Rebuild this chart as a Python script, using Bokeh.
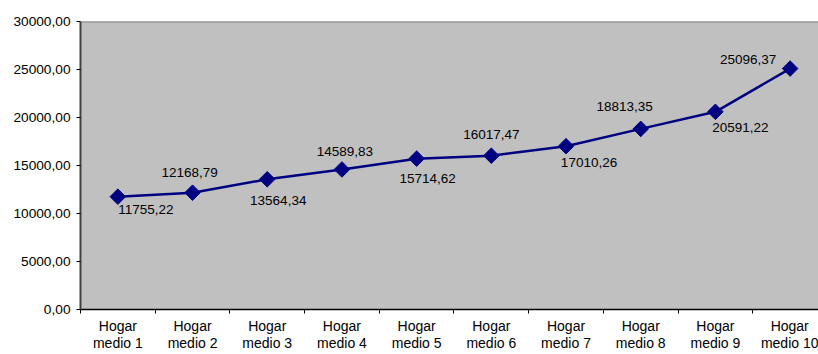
import numpy as np
from bokeh.plotting import figure
from bokeh.models import Range1d, FixedTicker, ColumnDataSource, Span
from bokeh.core.properties import value
from bokeh.embed import file_html
from bokeh.resources import INLINE

# Household categories and their average income
hogares = ["Hogar\nmedio 1", "Hogar\nmedio 2", "Hogar\nmedio 3", "Hogar\nmedio 4",
           "Hogar\nmedio 5", "Hogar\nmedio 6", "Hogar\nmedio 7", "Hogar\nmedio 8",
           "Hogar\nmedio 9", "Hogar\nmedio 10"]
ingresos = [11755.22, 12168.79, 13564.34, 14589.83, 15714.62,
            16017.47, 17010.26, 18813.35, 20591.22, 25096.37]
y_ticks = [0, 5000, 10000, 15000, 20000, 25000, 30000]
y_tick_labels = ["0,00", "5000,00", "10000,00", "15000,00", "20000,00", "25000,00", "30000,00"]

FONT = "Liberation Sans"
NAVY = "#000080"


def fmt(v):
    return f"{v:.2f}".replace(".", ",")


n = len(hogares)
centers = [i + 0.5 for i in range(n)]

# per-label placement (screen pixels, +y is downwards)
label_dx = [28, -3, 11, 3, 11, 0, 23, -16, 25, -42]
label_dy = [13, -20, 21, -18, 20, -21, 16, -22, 16, -9]

src = ColumnDataSource(dict(
    x=centers,
    y=ingresos,
    txt=[fmt(v) for v in ingresos],
    dx=label_dx,
    dy=label_dy,
))

p = figure(width=818, height=354,
           x_range=Range1d(0, 9.88), y_range=Range1d(0, 30000),
           output_backend="svg", toolbar_location=None,
           min_border_left=80, min_border_right=0,
           min_border_top=21, min_border_bottom=44)

p.background_fill_color = "#C0C0C0"
p.border_fill_color = "white"
p.outline_line_color = None
p.xgrid.visible = False
p.ygrid.visible = False

# top border of the plot area
p.add_layout(Span(location=30000, dimension="width", line_color="#808080", line_width=2))

# y axis
yax = p.yaxis[0]
yax.ticker = FixedTicker(ticks=y_ticks)
yax.major_label_overrides = {t: l for t, l in zip(y_ticks, y_tick_labels)}
yax.axis_line_color = "#404040"
yax.axis_line_width = 2
yax.major_tick_line_color = "black"
yax.major_tick_out = 4
yax.major_tick_in = 0
yax.minor_tick_line_color = None
yax.major_label_standoff = 6
yax.major_label_text_font = FONT
yax.major_label_text_font_size = "13.7px"
yax.major_label_text_color = "black"

# x axis: labels at category centers, ticks at category boundaries
xax = p.xaxis[0]
xax.ticker = FixedTicker(ticks=centers, minor_ticks=list(range(n)))
xax.major_label_overrides = {c: h for c, h in zip(centers, hogares)}
xax.axis_line_color = "black"
xax.axis_line_width = 1.5
xax.major_tick_line_color = None
xax.major_tick_out = 0
xax.major_tick_in = 0
xax.minor_tick_line_color = "black"
xax.minor_tick_out = 4
xax.minor_tick_in = 0
xax.major_label_standoff = 4
xax.major_label_text_font = FONT
xax.major_label_text_font_size = "14px"
xax.major_label_text_color = "black"
xax.major_label_text_line_height = 1.118

# series
p.line("x", "y", source=src, line_color=NAVY, line_width=2.5)
p.scatter("x", "y", source=src, marker="square", angle=np.pi / 4, size=11,
          fill_color=NAVY, line_color=NAVY)

# value labels
p.text("x", "y", text="txt", source=src, x_offset="dx", y_offset="dy",
       text_align="center", text_baseline="middle",
       text_font=value(FONT), text_font_size="13.5px", text_color="black")

open("out.html", "w").write(file_html(p, INLINE))
